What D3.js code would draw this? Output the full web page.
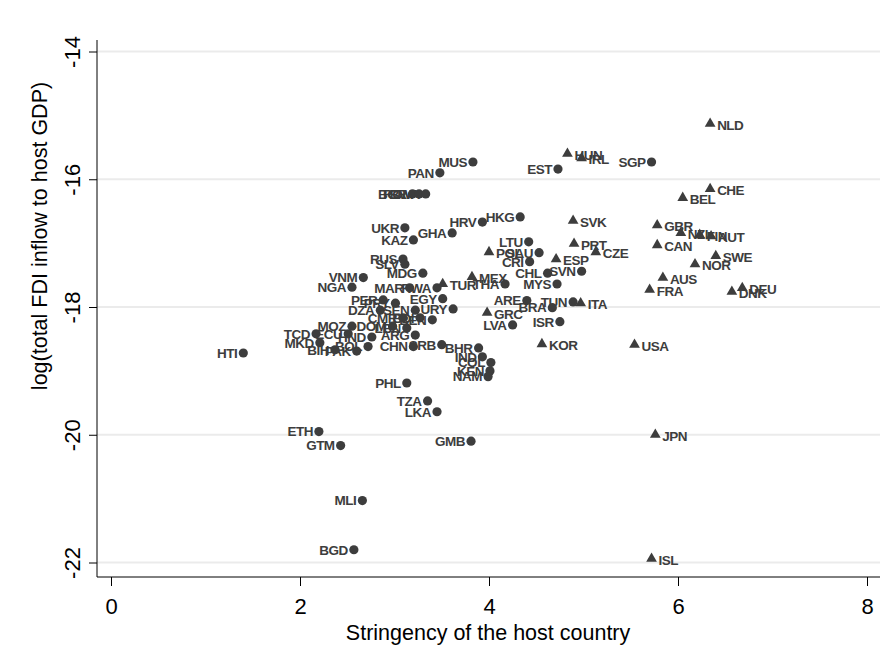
<!DOCTYPE html>
<html>
<head>
<meta charset="utf-8">
<script src="https://cdn.jsdelivr.net/npm/d3@7"></script>
<style>
  html, body { margin: 0; padding: 0; background: #ffffff; }
  svg { display: block; }
</style>
</head>
<body>
<div id="chart"></div>
<script>
// ---- data ----
const xTicks = [0, 2, 4, 6, 8];
const yTicks = [-14, -16, -18, -20, -22];

const nonOecdCodes = ["MUS","PAN","EST","SGP","BGR","ROM","BWA","HKG","HRV","UKR","GHA","KAZ","LTU","SAU","RUS","SLV","CRI","SVN","CHL","MDG","VNM","THA","MYS","NGA","MAR","RWA","PER","PRY","EGY","ARE","BRA","DZA","SEN","URY","TUN","CMR","BDI","BEN","LVA","ISR","MOZ","DOM","LBN","ARG","TCD","ECU","HND","MKD","BOL","BIH","PAK","CHN","SRB","BHR","HTI","IND","COL","KEN","NAM","PHL","TZA","LKA","ETH","GMB","GTM","MLI","BGD"];
const nonOecdX = [3.83,3.48,4.73,5.72,3.19,3.26,3.33,4.33,3.93,3.11,3.61,3.20,4.42,4.53,3.09,3.11,4.43,4.98,4.62,3.30,2.67,4.17,4.72,2.55,3.16,3.45,2.88,3.01,3.51,4.40,4.67,2.85,3.22,3.62,4.89,3.09,3.27,3.40,4.25,4.75,2.55,2.98,3.13,3.22,2.17,2.51,2.76,2.21,2.72,2.37,2.60,3.20,3.50,3.89,1.40,3.93,4.02,4.01,3.99,3.13,3.35,3.45,2.20,3.81,2.43,2.66,2.57];
const nonOecdY = [-15.73,-15.90,-15.84,-15.73,-16.23,-16.23,-16.23,-16.59,-16.67,-16.76,-16.84,-16.95,-16.98,-17.15,-17.25,-17.33,-17.29,-17.44,-17.47,-17.47,-17.54,-17.64,-17.64,-17.69,-17.70,-17.70,-17.89,-17.94,-17.87,-17.90,-18.01,-18.05,-18.05,-18.03,-17.92,-18.17,-18.17,-18.20,-18.28,-18.23,-18.30,-18.30,-18.33,-18.44,-18.42,-18.42,-18.47,-18.56,-18.62,-18.67,-18.69,-18.62,-18.59,-18.64,-18.72,-18.78,-18.87,-19.00,-19.09,-19.19,-19.47,-19.64,-19.95,-20.10,-20.17,-21.03,-21.80];

const oecdCodes = ["NLD","HUN","IRL","CHE","BEL","SVK","GBR","NZL","FIN","AUT","CAN","PRT","POL","CZE","SWE","ESP","NOR","MEX","AUS","TUR","FRA","DEU","DNK","ITA","GRC","KOR","USA","JPN","ISL"];
const oecdX = [6.34,4.83,4.98,6.34,6.05,4.89,5.78,6.03,6.23,6.35,5.78,4.90,4.00,5.13,6.40,4.71,6.18,3.82,5.84,3.51,5.70,6.68,6.57,4.97,3.98,4.56,5.54,5.76,5.72];
const oecdY = [-15.13,-15.60,-15.67,-16.15,-16.29,-16.65,-16.72,-16.84,-16.87,-16.89,-17.03,-17.01,-17.14,-17.14,-17.20,-17.25,-17.33,-17.53,-17.54,-17.64,-17.73,-17.70,-17.76,-17.94,-18.09,-18.58,-18.59,-20.00,-21.94];

const xTitle = "Stringency of the host country";
const yTitle = "log(total FDI inflow to host GDP)";

// ---- layout ----
const W = 891, H = 658;
const markColor = "#3d3d3d";

const svg = d3.select("#chart").append("svg")
  .attr("width", W).attr("height", H)
  .style("font-family", "'Liberation Sans', Arial, sans-serif");

const x = d3.scaleLinear().domain([0, 8]).range([111, 867]);
const y = d3.scaleLinear().domain([-22, -14]).range([562.5, 51.5]);

const axisLeftX = 97, axisBottomY = 577, plotRight = 880, plotTop = 40;

// gridlines
svg.append("g").selectAll("line").data(yTicks).join("line")
  .attr("x1", axisLeftX).attr("x2", plotRight)
  .attr("y1", d => y(d)).attr("y2", d => y(d))
  .attr("stroke", "#ebebeb").attr("stroke-width", 2);

// y axis
const yAxis = d3.axisLeft(y).tickValues(yTicks).tickSize(8).tickFormat(d3.format("d"));
const gy = svg.append("g").attr("transform", `translate(${axisLeftX},0)`).call(yAxis);
gy.select(".domain").remove();
gy.append("line").attr("x1", 0).attr("x2", 0).attr("y1", plotTop).attr("y2", axisBottomY)
  .attr("stroke", "#000").attr("stroke-width", 1);
gy.selectAll(".tick line").attr("stroke", "#000");
gy.selectAll(".tick text").remove();
gy.selectAll(".tick").append("text")
  .attr("transform", "translate(-17,0) rotate(-90)")
  .attr("text-anchor", "middle")
  .attr("fill", "#000")
  .style("font-size", "22px")
  .text(d => d3.format("d")(d).replace("−", "-"));

// x axis
const xAxis = d3.axisBottom(x).tickValues(xTicks).tickSize(9).tickFormat(d3.format("d"));
const gx = svg.append("g").attr("transform", `translate(0,${axisBottomY})`).call(xAxis);
gx.select(".domain").remove();
gx.append("line").attr("x1", axisLeftX).attr("x2", plotRight).attr("y1", 0).attr("y2", 0)
  .attr("stroke", "#000").attr("stroke-width", 1);
gx.selectAll(".tick line").attr("stroke", "#000");
gx.selectAll(".tick text").attr("fill", "#000").style("font-size", "22px").attr("dy", null).attr("y", 37);

// titles
svg.append("text").attr("x", x(3.99)).attr("y", 640).attr("text-anchor", "middle")
  .style("font-size", "21.5px").attr("fill", "#000").text(xTitle);
svg.append("text").attr("transform", "translate(47,236) rotate(-90)").attr("text-anchor", "middle")
  .style("font-size", "21.5px").attr("fill", "#000").text(yTitle);

// data
const nonOecd = nonOecdCodes.map((c, i) => ({ c, x: nonOecdX[i], y: nonOecdY[i] }));
const oecd = oecdCodes.map((c, i) => ({ c, x: oecdX[i], y: oecdY[i] }));

const gm = svg.append("g");
gm.selectAll("circle").data(nonOecd).join("circle")
  .attr("cx", d => x(d.x)).attr("cy", d => y(d.y)).attr("r", 4.6)
  .attr("fill", markColor);
gm.selectAll("path").data(oecd).join("path")
  .attr("d", d3.symbol(d3.symbolTriangle, 50))
  .attr("transform", d => `translate(${x(d.x)},${y(d.y)})`)
  .attr("fill", markColor);

const gl = svg.append("g").style("font-size", "13.5px").style("font-weight", "bold")
  .style("letter-spacing", "-0.5px").attr("fill", markColor);
gl.selectAll("text.n").data(nonOecd).join("text").attr("class", "n")
  .attr("x", d => x(d.x) - 6).attr("y", d => y(d.y)).attr("dy", "0.36em")
  .attr("text-anchor", "end").text(d => d.c);
gl.selectAll("text.o").data(oecd).join("text").attr("class", "o")
  .attr("x", d => x(d.x) + 7).attr("y", d => y(d.y)).attr("dy", "0.45em")
  .attr("text-anchor", "start").text(d => d.c);
</script>
</body>
</html>
